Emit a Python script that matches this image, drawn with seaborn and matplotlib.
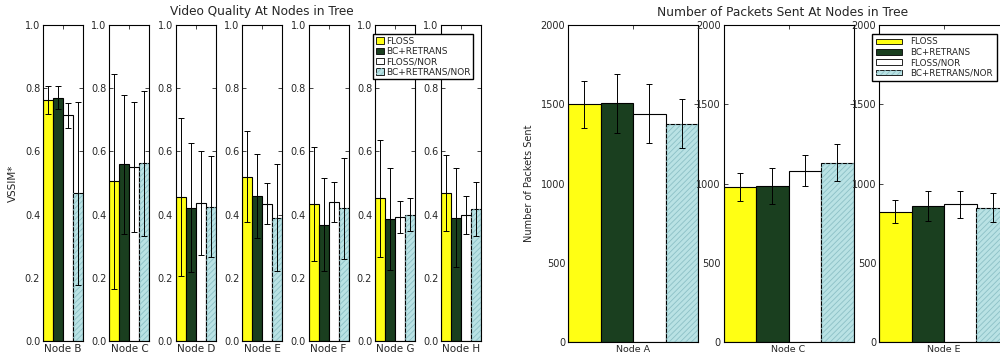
import numpy as np
import pandas as pd
import matplotlib
matplotlib.use("Agg")
import matplotlib.pyplot as plt
from matplotlib.patches import Patch
from matplotlib.legend_handler import HandlerTuple
import seaborn as sns

# series / categories
METHODS = ["FLOSS", "BC+RETRANS", "FLOSS/NOR", "BC+RETRANS/NOR"]
COLORS = ["#ffff14", "#1a3f1f", "#ffffff", "#b9e2e4"]
HATCH_COLOR = "#8cc0c6"

# video quality (VSSIM*) per node, order follows METHODS
VQ_NODES = ["Node B", "Node C", "Node D", "Node E", "Node F", "Node G", "Node H"]
VQ_MEAN = [
    [0.762, 0.770, 0.714, 0.467],
    [0.506, 0.559, 0.550, 0.562],
    [0.457, 0.422, 0.436, 0.425],
    [0.520, 0.459, 0.435, 0.390],
    [0.433, 0.368, 0.440, 0.420],
    [0.451, 0.386, 0.393, 0.400],
    [0.469, 0.390, 0.399, 0.417],
]
VQ_ERR = [
    [0.045, 0.037, 0.040, 0.290],
    [0.340, 0.220, 0.205, 0.230],
    [0.250, 0.205, 0.165, 0.160],
    [0.144, 0.133, 0.064, 0.170],
    [0.180, 0.147, 0.062, 0.159],
    [0.186, 0.162, 0.050, 0.051],
    [0.121, 0.157, 0.060, 0.085],
]

# packets sent per node
PK_NODES = ["Node A", "Node C", "Node E"]
PK_MEAN = [
    [1499, 1505, 1440, 1377],
    [977, 985, 1082, 1131],
    [823, 857, 869, 848],
]
PK_ERR = [
    [150, 185, 187, 155],
    [88, 115, 96, 118],
    [72, 93, 86, 92],
]

sns.set_style("white")
plt.rcParams["font.family"] = ["DejaVu Sans"]
plt.rcParams["axes.linewidth"] = 0.8
plt.rcParams["hatch.linewidth"] = 0.6

W, H = 1000, 355
fig = plt.figure(figsize=(W / 100, H / 100), dpi=100)


def draw_node(ax, node, means, errs, ymax, yticks, tick_fs, xlab_fs):
    df = pd.DataFrame({"method": METHODS, "value": means})
    sns.barplot(data=df, x="method", y="value", hue="method", order=METHODS,
                hue_order=METHODS, palette=COLORS, saturation=1, width=1.0,
                edgecolor="black", linewidth=0.8, legend=False, ax=ax, errorbar=None)
    ax.errorbar(np.arange(len(METHODS)), means, yerr=errs, fmt="none",
                ecolor="black", elinewidth=0.7, capsize=2.4, capthick=0.7)
    # fine hatching on the last bar
    p = ax.patches[3]
    ax.bar(p.get_x(), p.get_height(), width=p.get_width(), align="edge",
           fill=False, hatch="//////", edgecolor=HATCH_COLOR, linewidth=0,
           zorder=p.get_zorder() + 0.1)
    ax.set_xlim(-0.5, len(METHODS) - 0.5)
    ax.set_ylim(0, ymax)
    ax.set_yticks(yticks)
    ax.set_xticks([(len(METHODS) - 1) / 2])
    ax.set_xticklabels([node], fontsize=xlab_fs)
    ax.set_xlabel("")
    ax.set_ylabel("")
    ax.tick_params(axis="y", direction="in", left=True, right=True, length=3,
                   width=0.6, labelsize=tick_fs, pad=2)
    ax.tick_params(axis="x", direction="in", top=True, bottom=False, length=3,
                   width=0.6, pad=2)
    for s in ax.spines.values():
        s.set_color("black")
        s.set_zorder(5)


top_px, bot_px = 25, 341
# left block: video quality
for i, node in enumerate(VQ_NODES):
    left = 43 + i * 66.4
    ax = fig.add_axes([left / W, 1 - bot_px / H, 40 / W, (bot_px - top_px) / H])
    draw_node(ax, node, VQ_MEAN[i], VQ_ERR[i], 1.0,
              [0.0, 0.2, 0.4, 0.6, 0.8, 1.0], 7, 7.5)
    ax.set_yticklabels(["0.0", "0.2", "0.4", "0.6", "0.8", "1.0"])
    if i == 0:
        ax.set_ylabel("VSSIM*", fontsize=7.5, labelpad=5)

# right block: packets sent (last panel runs past the figure edge)
for i, node in enumerate(PK_NODES):
    left = 568 + i * 155.5
    ax = fig.add_axes([left / W, 1 - (bot_px + 1) / H, 130 / W, (bot_px + 1 - top_px) / H])
    draw_node(ax, node, PK_MEAN[i], PK_ERR[i], 2000,
              [0, 500, 1000, 1500, 2000], 7, 6.8)
    if i == 0:
        ax.set_ylabel("Number of Packets Sent", fontsize=7, labelpad=5)

fig.text(0.262, 1 - 11 / H, "Video Quality At Nodes in Tree", ha="center",
         va="center", fontsize=8.7)
fig.text(0.7825, 1 - 12 / H, "Number of Packets Sent At Nodes in Tree",
         ha="center", va="center", fontsize=8.8)

handles = []
for k, c in enumerate(COLORS):
    base = Patch(facecolor=c, edgecolor="black", linewidth=0.6)
    if k == 3:
        handles.append((base, Patch(facecolor="none", edgecolor=HATCH_COLOR,
                                    linewidth=0, hatch="//////")))
    else:
        handles.append(base)

tuple_map = {tuple: HandlerTuple(ndivide=1, pad=0)}
fig.legend(handles, METHODS, loc="upper left", bbox_to_anchor=(373 / W, 1 - 34 / H),
           fontsize=6.5, frameon=True, fancybox=False, framealpha=1,
           edgecolor="black", borderpad=0.3, labelspacing=0.15, handlelength=0.9,
           handleheight=0.7, handletextpad=0.2, borderaxespad=0,
           handler_map=tuple_map)
fig.legend(handles, METHODS, loc="upper left", bbox_to_anchor=(872 / W, 1 - 34 / H),
           fontsize=6.3, frameon=True, fancybox=False, framealpha=1,
           edgecolor="black", borderpad=0.4, labelspacing=0.15, handlelength=3.0,
           handleheight=0.6, handletextpad=1.0, borderaxespad=0,
           handler_map=tuple_map)

fig.savefig("out.png", dpi=100)
